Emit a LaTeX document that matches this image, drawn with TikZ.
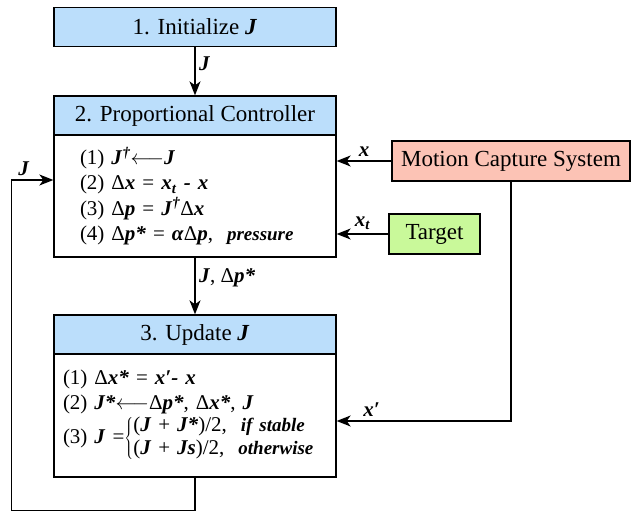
\documentclass[tikz,border=0pt]{standalone}
\usepackage{fontspec}
\setmainfont{Liberation Serif}
\usepackage{xcolor}
\usepackage{tikz}
\usetikzlibrary{positioning, arrows.meta, calc}
\definecolor{headblue}{HTML}{BBDEFB}
\definecolor{mocapred}{HTML}{FCC3B5}
\definecolor{targetgreen}{HTML}{C9F99A}
\newcommand{\bi}[1]{\textbf{\textit{#1}}}
\newcommand{\dg}{\textsuperscript{\bi{†}}}
\newcommand{\note}[1]{{\fontsize{19}{21}\selectfont\bi{#1}}}

\tikzset{
  headbox/.style={fill=headblue, draw=black, line width=1.3pt, inner sep=0pt,
    minimum width=282pt, minimum height=39pt, font=\fontsize{23}{26}\selectfont},
  bodybox/.style={fill=white, draw=black, line width=1.3pt, align=left,
    font=\fontsize{21}{25.3}\selectfont},
  sidebox/.style={draw=black, line width=1.3pt, inner sep=0pt,
    minimum height=40pt, font=\fontsize{23}{26}\selectfont},
  arr/.style={line width=1.5pt, -{Stealth[length=14pt, width=11pt, inset=4pt]}},
  lbl/.style={font=\fontsize{21}{23}\selectfont}
}

\begin{document}
\begin{tikzpicture}[x=1pt, y=1pt]
  \useasboundingbox (0,0) rectangle (639,514);
  % left column
  \node[headbox] (init) at (195,487) {1. Initialize \bi{J}};
  \node[headbox] (head2) at (195,398.5) {2. Proportional Controller};
  \node[bodybox, text width=230pt, inner xsep=26pt, minimum height=122pt,
        below=-1.3pt of head2] (ctrl) {%
    (1) \bi{J}\dg$\longleftarrow$\bi{J}\\
    (2) Δ\bi{x} = \bi{x}\textsubscript{\bi{t}} \bi{-} \bi{x}\\
    (3) Δ\bi{p} = \bi{J}\dg Δ\bi{x}\\
    (4) Δ\bi{p*} = \bi{α}Δ\bi{p},\ \ \note{pressure}};
  \node[headbox] (head3) at (195,179.5) {3. Update \bi{J}};
  \node[bodybox, text width=264pt, inner xsep=9pt, minimum height=123pt,
        below=-1.3pt of head3] (upd) {%
    (1) Δ\bi{x*} = \bi{x′- x}\\
    (2) \bi{J*}$\longleftarrow$Δ\bi{p*}, Δ\bi{x*}, \bi{J}\\
    (3) \bi{J} =$\left\{\renewcommand{\arraystretch}{0.92}\begin{tabular}{@{}l@{}}
      (\bi{J} + \bi{J*})/2,\ \ \note{if stable}\\
      (\bi{J} + \bi{Js})/2,\ \ \note{otherwise}\end{tabular}\right.$};
  % right column
  \node[sidebox, fill=mocapred, minimum width=238pt] (mocap) at (511,353) {Motion Capture System};
  \node[sidebox, fill=targetgreen, minimum width=91pt] (target) at (434.5,280) {Target};

  % connectors
  \draw[arr] (init) -- node[lbl, right, pos=0.35] {\bi{J}} (head2);
  \draw[arr] (mocap.west) -- node[lbl, above] {\bi{x}} (mocap.west -| ctrl.east);
  \draw[arr] (target.west) -- node[lbl, above] {\bi{x}\textsubscript{\bi{t}}} (target.west -| ctrl.east);
  \draw[arr] (ctrl) -- node[lbl, right, pos=0.35] {\bi{J}, Δ\bi{p*}} (head3);
  \draw[arr] (mocap.south) |- node[lbl, above, pos=0.9] {\bi{x′}} ([yshift=-5.5pt]upd.east);
  \coordinate (loopin) at ([yshift=16pt]ctrl.west);
  \coordinate (loopbot) at ([yshift=-33pt]upd.south);
  \draw[arr] (upd.south) -- (loopbot) -| ([xshift=-42pt]loopin)
    -- node[lbl, above, pos=0.3] {\bi{J}} (loopin);
\end{tikzpicture}
\end{document}
